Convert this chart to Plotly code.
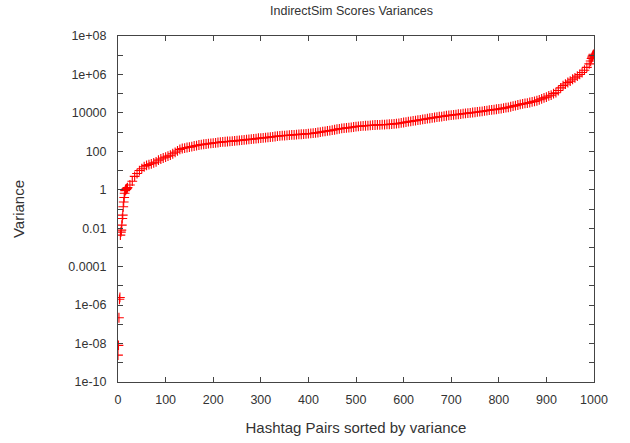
import plotly.graph_objects as go

# Sorted pair index (x) and variance (y)
pair_index = list(range(0, 20)) + list(range(20, 995, 5)) + [993, 995, 996, 997, 998, 999]
pair_index = sorted(set(pair_index))

variance_low = [2.5e-9, 8e-9, 2.2e-7, 2e-6, 2.5e-6, 0.0044, 0.0063, 0.008, 0.0145, 0.032,
                0.048, 0.13, 0.23, 0.4, 0.66, 0.9, 1.0, 1.05, 1.12, 1.2]
variance_mid = [
    1.3, 1.78, 2.8, 5.0, 7.0, 10, 12.5, 15.8, 18.6, 20.5,
    22.4, 25, 28, 35, 40, 45, 50, 56, 63, 75,
    89, 105, 126, 140, 148, 158, 166, 176, 190, 200,
    214, 224, 234, 240, 250, 260, 270, 278, 288, 300,
    309, 316, 324, 332, 339, 350, 360, 372, 380, 393,
    407, 417, 427, 440, 460, 478, 490, 500, 513, 537,
    550, 570, 590, 615, 631, 650, 661, 676, 692, 710,
    724, 741, 759, 775, 794, 810, 832, 850, 880, 912,
    955, 1000, 1050, 1100, 1150, 1200, 1260, 1330, 1410, 1480,
    1550, 1600, 1660, 1700, 1780, 1850, 1950, 2000, 2040, 2090,
    2140, 2190, 2240, 2290, 2340, 2380, 2400, 2430, 2450, 2500,
    2570, 2630, 2690, 2750, 2880, 3000, 3160, 3300, 3470, 3630,
    3800, 3980, 4170, 4370, 4570, 4790, 5000, 5250, 5500, 5750,
    6030, 6310, 6460, 6760, 7080, 7410, 7590, 7940, 8130, 8510,
    8710, 9120, 9330, 9770, 10000, 10500, 10800, 11200, 11500, 12000,
    12600, 13200, 13800, 14500, 14800, 15500, 16000, 16600, 17800, 18600,
    19500, 20900, 22400, 24000, 25700, 27500, 29500, 30900, 32400, 34700,
    37200, 39800, 42700, 47900, 53700, 60300, 66100, 75900, 83200, 100000,
    112000, 145000, 200000, 263000, 316000, 380000, 447000, 562000, 661000, 813000,
    1000000, 1260000, 1660000, 2340000, 3550000,
]
variance_top = [5000000, 6800000, 7900000, 9000000, 10000000, 11200000]
variance = variance_low + variance_mid + variance_top

y_tick_vals = [10.0 ** e for e in range(-10, 9)]
y_tick_text = ["1e-10", "", "1e-08", "", "1e-06", "", "0.0001", "", "0.01", "", "1", "",
               "100", "", "10000", "", "1e+06", "", "1e+08"]
x_tick_vals = list(range(0, 1001, 100))

fig = go.Figure()
fig.add_trace(go.Scatter(
    x=pair_index[:len(variance)], y=variance, mode="markers",
    marker=dict(symbol="cross-thin", size=7, color="#ff0000",
                line=dict(color="#ff0000", width=1.1)),
    showlegend=False,
))

font = dict(family="Liberation Sans, Arial, sans-serif", size=12.5, color="#333333")
fig.update_layout(
    width=630, height=443,
    margin=dict(l=118, r=36, t=36, b=61, autoexpand=False),
    paper_bgcolor="white", plot_bgcolor="white",
    font=font,
    title=dict(text="IndirectSim Scores Variances", x=0.558,
               xanchor="center", y=0.977, yanchor="middle", font=dict(size=12.5, color="#333333")),
    xaxis=dict(range=[0, 1000], tickvals=x_tick_vals, ticks="inside", ticklen=5,
               tickcolor="#444444", showline=True, linecolor="#444444", linewidth=1,
               mirror="ticks", showgrid=False, zeroline=False, automargin=False,
               title=dict(text="Hashtag Pairs sorted by variance", standoff=16),
               ticklabelstandoff=6),
    yaxis=dict(type="log", range=[-10, 8], tickvals=y_tick_vals, ticktext=y_tick_text,
               ticks="inside", ticklen=5, tickcolor="#444444", showline=True,
               linecolor="#444444", linewidth=1, mirror="ticks", showgrid=False,
               zeroline=False, automargin=False, title=dict(text="Variance", standoff=40),
               ticklabelstandoff=8),
)

fig.write_html("out.html")
